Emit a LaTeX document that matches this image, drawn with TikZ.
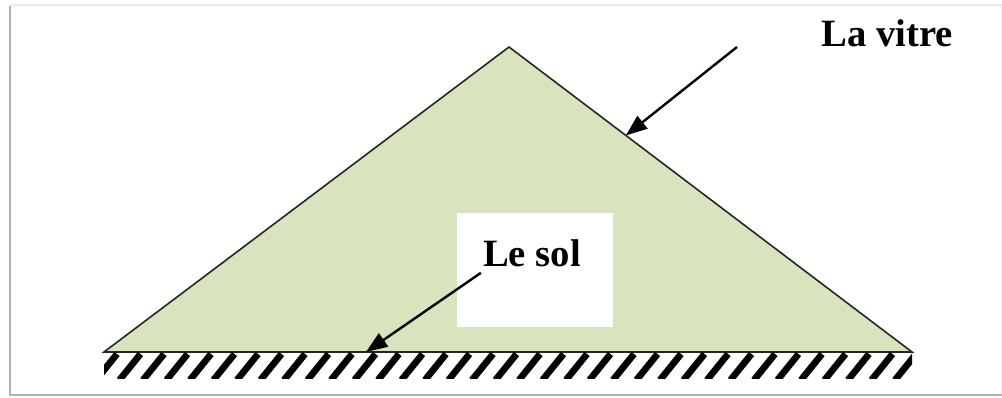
\documentclass[tikz,border=0pt]{standalone}
\usepackage{fontspec}
\setmainfont{Liberation Serif}
\usetikzlibrary{arrows.meta, calc}
\definecolor{vitregreen}{RGB}{215,228,189}
\begin{document}
\begin{tikzpicture}[
		x=0.75pt, y=-0.75pt,
		lbl/.style = {font=\fontsize{29}{33}\selectfont\bfseries, inner sep=0pt},
		box/.style = {rectangle, fill=white, minimum width=117pt, minimum height=85pt, inner sep=0pt},
		r/.style = {-{Triangle[length=16pt, width=12pt]}, line width=1.8pt},
		hatch/.style = {line width=5pt}
		]
		\useasboundingbox (0, 0) rectangle (1002, 398);

		%Frame
		\draw[black!8, line width=1pt]	(10, 5)	rectangle	(1002, 395);
		\draw[black!30, line width=2.2pt]	(10, 6)	--	(10, 395)	--	(1002, 395);

		%Glass
		\coordinate	(top)	at	(509, 47);
		\coordinate	(bl)	at	(104, 352);
		\coordinate	(br)	at	(912, 352);
		\filldraw[fill=vitregreen, draw=black!85, line width=1.2pt]	(bl)	--	(top)	--	(br)	--	cycle;

		%Ground
		\begin{scope}
			\clip (104, 353) rectangle (912, 379);
			\foreach \i in {0,...,35}
				\draw[hatch]	(96 + 23.5*\i, 380)	--	++(21, -26);
		\end{scope}

		%Nodes
		\node[box]	(sbox)	at	(535, 270)	{};
		\node[lbl]	(sol)	at	(532, 253)	{Le sol};
		\node[lbl]	(vitre)	at	(887, 33)	{La vitre};
		\coordinate	(vstart)	at	(737, 47);
		\coordinate	(vend)	at	($(top)!0.29!(br)$);
		\coordinate	(sstart)	at	([shift={(-2, 6)}]sol.south west);
		\coordinate	(send)	at	(366, 352);

		%Lines
		\draw[r]	(vstart)	--	(vend);
		\draw[r]	(sstart)	--	(send);
	\end{tikzpicture}
\end{document}
